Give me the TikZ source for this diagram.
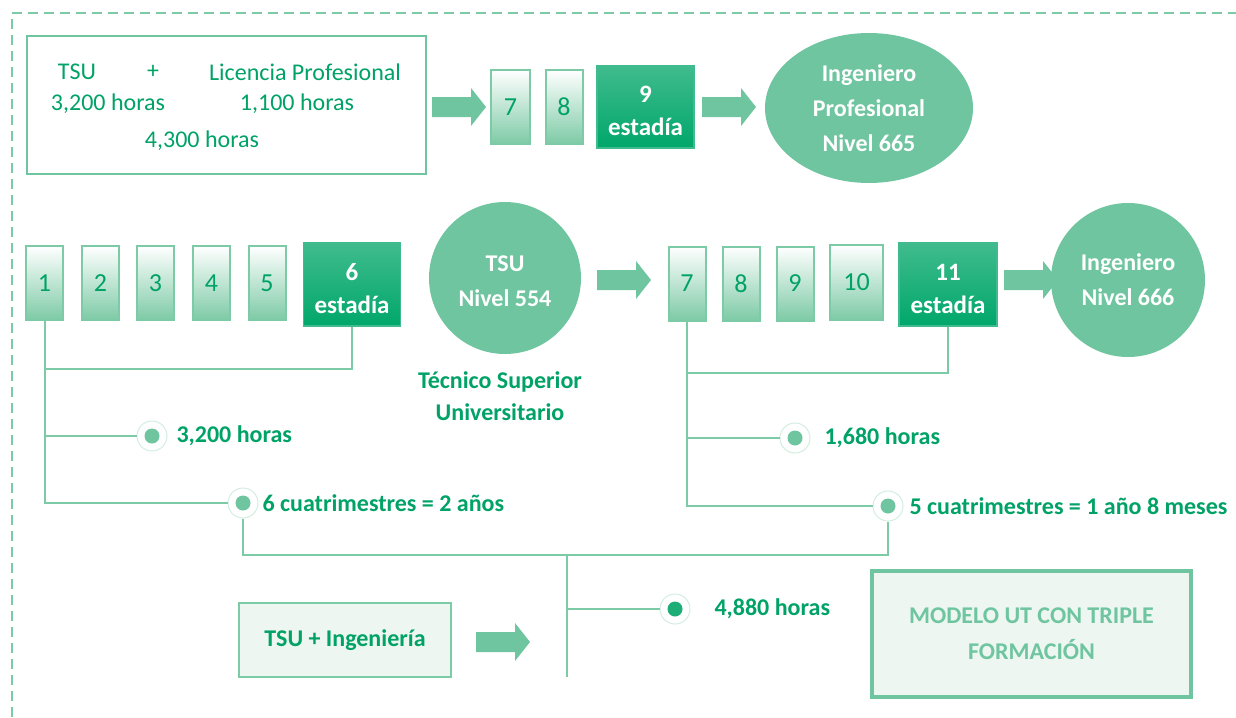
\documentclass[tikz,border=0pt]{standalone}
\usepackage{fontspec}
\setmainfont{Carlito}
\usetikzlibrary{shapes.geometric}
\definecolor{midg}{HTML}{6FC59F}
\definecolor{txtg}{HTML}{00A266}
\definecolor{lineg}{HTML}{7CCBA6}
\definecolor{lightg}{HTML}{7DCAA6}
\definecolor{darktop}{HTML}{40BB8D}
\definecolor{darkbot}{HTML}{00A76B}
\definecolor{paleg}{HTML}{EDF6F1}
\definecolor{ringg}{HTML}{D3EEE1}
\definecolor{dotdark}{HTML}{1DAE77}
\newcommand{\topstrut}{\rule{0pt}{25pt}}
\begin{document}
\begin{tikzpicture}[x=1pt,y=-1pt,
  every node/.style={font=\fontsize{24}{28}\selectfont},
  conn/.style={draw=lineg,line width=2pt},
  semb/.style={draw=lineg,line width=2pt,top color=white,bottom color=lightg,
    minimum width=37pt,minimum height=74pt,inner sep=0pt,text=txtg,font=\fontsize{26}{30}\selectfont},
  estb/.style={draw=darktop,line width=1.5pt,top color=darktop,bottom color=darkbot,
    minimum width=97pt,minimum height=83pt,inner sep=0pt,text=white,font=\fontsize{25}{33}\selectfont\bfseries,align=center},
  barrow/.pic={\fill[midg] (-27,-10) -- (12,-10) -- (12,-19) -- (27,0) -- (12,19) -- (12,10) -- (-27,10) -- cycle;},
  bigc/.style={circle,fill=midg,text=white,font=\fontsize{24}{35}\selectfont\bfseries,align=center,inner sep=0pt},
  dotmark/.style={circle,minimum size=30pt,inner sep=0pt,fill=white,draw=ringg,line width=1pt,
    path picture={\fill[midg] (path picture bounding box.center) circle (7.5);}},
  dotmarkd/.style={circle,minimum size=30pt,inner sep=0pt,fill=white,draw=ringg,line width=1pt,
    path picture={\fill[dotdark] (path picture bounding box.center) circle (7.5);}},
  lab/.style={anchor=west,text=txtg,font=\fontsize{24}{28}\selectfont\bfseries},
  toptxt/.style={text=txtg}
]
\useasboundingbox (0,0) rectangle (1236,717);
% dashed frame
\draw[draw=lineg,line width=2pt,dash pattern=on 10pt off 6pt] (12,717) -- (12,13) -- (1236,13);

% top box
\node[draw=midg,line width=1.5pt,minimum width=399pt,minimum height=138pt] (top) at (226.5,105) {};
\node[toptxt] (t1) at (77,72) {TSU};
\node[toptxt] (t2) at (153,72) {+};
\node[toptxt] (t3) at (305,72) {Licencia Profesional};
\node[toptxt] (t4) at (108,104) {3,200 horas};
\node[toptxt] (t5) at (297,104) {1,100 horas};
\node[toptxt] (t6) at (202,141) {4,300 horas};

\pic (a1) at (459,107) {barrow};
\node[semb,minimum width=39pt] (c7) at (510.5,107) {7};
\node[semb] (c8) at (564,107) {8};
\node[estb,minimum height=82pt] (c9) at (645.5,107) {\topstrut 9\\estadía};
\pic (a2) at (729,107) {barrow};
\node[ellipse,fill=midg,minimum width=208pt,minimum height=150pt,inner sep=0pt,
  text=white,font=\fontsize{24}{35}\selectfont\bfseries,align=center] (ip) at (869,108) {Ingeniero\\Profesional\\Nivel 665};

% row 2 left
\node[semb] (b1) at (44.5,283) {1};
\node[semb] (b2) at (100.5,283) {2};
\node[semb] (b3) at (155.5,283) {3};
\node[semb] (b4) at (211.5,283) {4};
\node[semb] (b5) at (267,283) {5};
\node[estb] (b6) at (352,284.5) {\topstrut 6\\estadía};
\node[bigc,minimum size=152pt] (tsu) at (505,278) {\rule{0pt}{22pt}TSU\\Nivel 554};
\node[text=txtg,font=\fontsize{24}{32}\selectfont\bfseries,align=center] (tsut) at (500,396) {Técnico Superior\\Universitario};
\pic (a3) at (624,280) {barrow};
% row 2 right
\node[semb] (d7) at (687,283.5) {7};
\node[semb] (d8) at (741,283.5) {8};
\node[semb] (d9) at (795,283.5) {9};
\node[semb,minimum width=53pt,minimum height=75pt] (d10) at (856.5,282.5) {10};
\node[estb,minimum width=98pt] (d11) at (948,284.5) {\topstrut 11\\estadía};
\pic (a4) at (1031,280) {barrow};
\node[bigc,minimum size=154pt] (ing) at (1128,280) {Ingeniero\\Nivel 666};

% left tree
\node[dotmark] (m1) at (152,436) {};
\node[dotmark] (m2) at (243,503) {};
\node[lab] (l1) at (173,436) {3,200 horas};
\node[lab] (l2) at (259,503) {6 cuatrimestres = 2 años};
\coordinate (j1) at (44,369);
\draw[conn] (b1.south) |- (m2);
\draw[conn] (b6.south) |- (j1);
\draw[conn] (b1.south |- m1) -- (m1);

% right tree
\node[dotmark] (m3) at (795,438) {};
\node[dotmark] (m4) at (888,506) {};
\node[lab] (l3) at (821,438) {1,680 horas};
\node[lab] (l4) at (906,506) {5 cuatrimestres = 1 año 8 meses};
\coordinate (j2) at (687,373);
\draw[conn] (d7.south) |- (m4);
\draw[conn] (d11.south) |- (j2);
\draw[conn] (d7.south |- m3) -- (m3);

% joining bar
\coordinate (bar1) at (243,555);
\coordinate (bar2) at (888,555);
\draw[conn] (m2) -- (bar1) -- (bar2) -- (m4);
\coordinate (mtop) at (567,555);
\coordinate (mbot) at (567,677);
\draw[conn] (mtop) -- (mbot);
\node[dotmarkd] (m5) at (675,609) {};
\node[lab] (l5) at (711,609) {4,880 horas};
\draw[conn] (mtop |- m5) -- (m5);

% bottom boxes
\node[draw=lineg,line width=2pt,fill=paleg,minimum width=212pt,minimum height=74pt,
  text=txtg,font=\fontsize{24}{28}\selectfont\bfseries] (ti) at (345,640) {TSU + Ingeniería};
\pic (a5) at (503,642) {barrow};
\node[draw=midg,line width=3.5pt,fill=paleg,minimum width=319pt,minimum height=126pt,
  text=midg,font=\fontsize{24}{36}\selectfont\bfseries,align=center] (mod) at (1031.5,634) {MODELO UT CON TRIPLE\\FORMACIÓN};
\end{tikzpicture}
\end{document}
